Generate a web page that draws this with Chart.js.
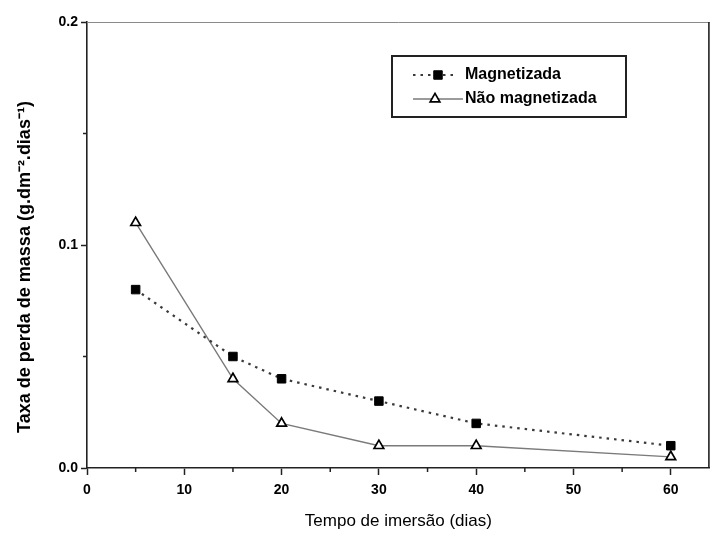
<!DOCTYPE html>
<html>
<head>
<meta charset="utf-8">
<script src="https://cdn.jsdelivr.net/npm/chart.js@4.4.1/dist/chart.umd.min.js"></script>
<style>
  html, body { margin: 0; padding: 0; background: #fff; }
  #wrap { width: 717px; height: 540px; }
</style>
</head>
<body>
<div id="wrap"><canvas id="c" width="717" height="540"></canvas></div>
<script>
// Immersion time (days) and mass-loss rate for each sample
const days = [5, 15, 20, 30, 40, 60];
const magnetizada = [0.08, 0.05, 0.04, 0.03, 0.02, 0.01];
const naoMagnetizada = [0.11, 0.04, 0.02, 0.01, 0.01, 0.005];

const seriesLabels = ['Magnetizada', 'Não magnetizada'];
const xTickValues = [0, 10, 20, 30, 40, 50, 60];
const xMinorValues = [5, 15, 25, 35, 45, 55];
const yTickValues = [0.0, 0.1, 0.2];
const yMinorValues = [0.05, 0.15];

const xTitle = 'Tempo de imersão (dias)';
const yTitle = 'Taxa de perda de massa (g.dm\u207B\u00B2.dias\u207B\u00B9)';

const toPoints = (ys) => days.map((d, i) => ({ x: d, y: ys[i] }));

// White page background
const background = {
  id: 'background',
  beforeDraw(chart) {
    const ctx = chart.ctx;
    ctx.save();
    ctx.fillStyle = '#fff';
    ctx.fillRect(0, 0, chart.width, chart.height);
    ctx.restore();
  }
};

// Closing frame (top and right), minor ticks, and the rotated y title
const frameAndMinor = {
  id: 'frameAndMinor',
  afterDraw(chart) {
    const { ctx, chartArea: a, scales: { x, y } } = chart;
    ctx.save();
    ctx.strokeStyle = '#8a8a8a';
    ctx.lineWidth = 1;
    ctx.beginPath();
    ctx.moveTo(a.left, a.top + 0.5);
    ctx.lineTo(a.right, a.top + 0.5);
    ctx.stroke();
    ctx.strokeStyle = '#222';
    ctx.lineWidth = 1.6;
    ctx.beginPath();
    ctx.moveTo(a.right - 0.8, a.top);
    ctx.lineTo(a.right - 0.8, a.bottom);
    ctx.stroke();

    ctx.strokeStyle = '#222';
    ctx.lineWidth = 1.5;
    ctx.beginPath();
    xMinorValues.forEach(v => {
      const px = x.getPixelForValue(v);
      ctx.moveTo(px, a.bottom);
      ctx.lineTo(px, a.bottom + 4);
    });
    yMinorValues.forEach(v => {
      const py = y.getPixelForValue(v);
      ctx.moveTo(a.left, py);
      ctx.lineTo(a.left - 4, py);
    });
    ctx.stroke();

    // y axis title, set slightly below the axis middle
    ctx.translate(25, 267);
    ctx.rotate(-Math.PI / 2);
    ctx.fillStyle = '#000';
    ctx.font = 'bold 18px "Liberation Sans", Arial, sans-serif';
    ctx.textAlign = 'center';
    ctx.textBaseline = 'middle';
    ctx.fillText(yTitle, 0, 0);
    ctx.restore();
  }
};

// Boxed legend inside the plot area
const boxedLegend = {
  id: 'boxedLegend',
  afterDraw(chart) {
    const ctx = chart.ctx;
    const box = { left: 392, top: 56, right: 626, bottom: 117 };
    ctx.save();
    ctx.strokeStyle = '#222';
    ctx.lineWidth = 2;
    ctx.strokeRect(box.left, box.top, box.right - box.left, box.bottom - box.top);

    const rows = [75, 99];
    const sample = [
      { x0: 413, x1: 458, px: 438, tx: 465 },
      { x0: 413, x1: 463, px: 435, tx: 465 }
    ];
    chart.data.datasets.forEach((ds, i) => {
      const yy = rows[i];
      const s = sample[i];
      ctx.save();
      ctx.strokeStyle = ds.borderColor;
      ctx.lineWidth = ds.borderWidth;
      ctx.setLineDash(ds.borderDash || []);
      ctx.beginPath();
      ctx.moveTo(s.x0, yy);
      ctx.lineTo(s.x1, yy);
      ctx.stroke();
      ctx.restore();
      ctx.save();
      ctx.fillStyle = ds.pointBackgroundColor;
      ctx.strokeStyle = ds.pointBorderColor;
      ctx.lineWidth = ds.pointBorderWidth;
      Chart.helpers.drawPoint(ctx, {
        pointStyle: ds.pointStyle,
        radius: ds.pointRadius,
        borderWidth: ds.pointBorderWidth,
        rotation: 0
      }, s.px, yy);
      ctx.restore();
      ctx.fillStyle = '#000';
      ctx.font = 'bold 16px "Liberation Sans", Arial, sans-serif';
      ctx.textBaseline = 'middle';
      ctx.textAlign = 'left';
      ctx.fillText(ds.label, s.tx, yy);
    });
    ctx.restore();
  }
};

new Chart(document.getElementById('c'), {
  type: 'line',
  data: {
    datasets: [
      {
        label: seriesLabels[0],
        data: toPoints(magnetizada),
        borderColor: '#3a3a3a',
        borderWidth: 2.2,
        borderDash: [2.5, 5],
        pointStyle: 'rect',
        pointRadius: 6,
        pointBackgroundColor: '#000',
        pointBorderColor: '#000',
        pointBorderWidth: 1,
        tension: 0
      },
      {
        label: seriesLabels[1],
        data: toPoints(naoMagnetizada),
        borderColor: '#7a7a7a',
        borderWidth: 1.4,
        pointStyle: 'triangle',
        pointRadius: 5.6,
        pointBackgroundColor: '#fff',
        pointBorderColor: '#000',
        pointBorderWidth: 1.7,
        tension: 0
      }
    ]
  },
  options: {
    responsive: false,
    devicePixelRatio: 1,
    animation: false,
    layout: { padding: { left: 0, right: 2, top: 22, bottom: 0 } },
    plugins: {
      legend: { display: false },
      tooltip: { enabled: false }
    },
    scales: {
      x: {
        type: 'linear',
        min: 0,
        max: 64,
        afterBuildTicks(scale) {
          scale.ticks = xTickValues.map(v => ({ value: v }));
        },
        afterFit(scale) { scale.height = 72; },
        grid: {
          drawOnChartArea: false,
          drawTicks: true,
          tickLength: 7,
          tickWidth: 1.5,
          tickColor: '#222'
        },
        border: { display: true, color: '#222', width: 1.6 },
        ticks: {
          color: '#000',
          padding: 7,
          maxRotation: 0,
          font: { family: '"Liberation Sans", Arial, sans-serif', size: 14, weight: 'bold' },
          callback: (v) => String(v)
        },
        title: {
          display: true,
          text: xTitle,
          color: '#000',
          padding: { top: 0, bottom: 8 },
          font: { family: '"Liberation Sans", Arial, sans-serif', size: 17, weight: 'normal' }
        }
      },
      y: {
        type: 'linear',
        min: 0,
        max: 0.2,
        afterBuildTicks(scale) {
          scale.ticks = yTickValues.map(v => ({ value: v }));
        },
        afterFit(scale) { scale.width = 87; },
        grid: {
          drawOnChartArea: false,
          drawTicks: true,
          tickLength: 6,
          tickWidth: 1.5,
          tickColor: '#222'
        },
        border: { display: true, color: '#222', width: 1.6 },
        ticks: {
          color: '#000',
          padding: 3,
          font: { family: '"Liberation Sans", Arial, sans-serif', size: 14, weight: 'bold' },
          callback: (v) => Number(v).toFixed(1)
        },
        title: { display: false }
      }
    }
  },
  plugins: [background, frameAndMinor, boxedLegend]
});
</script>
</body>
</html>
